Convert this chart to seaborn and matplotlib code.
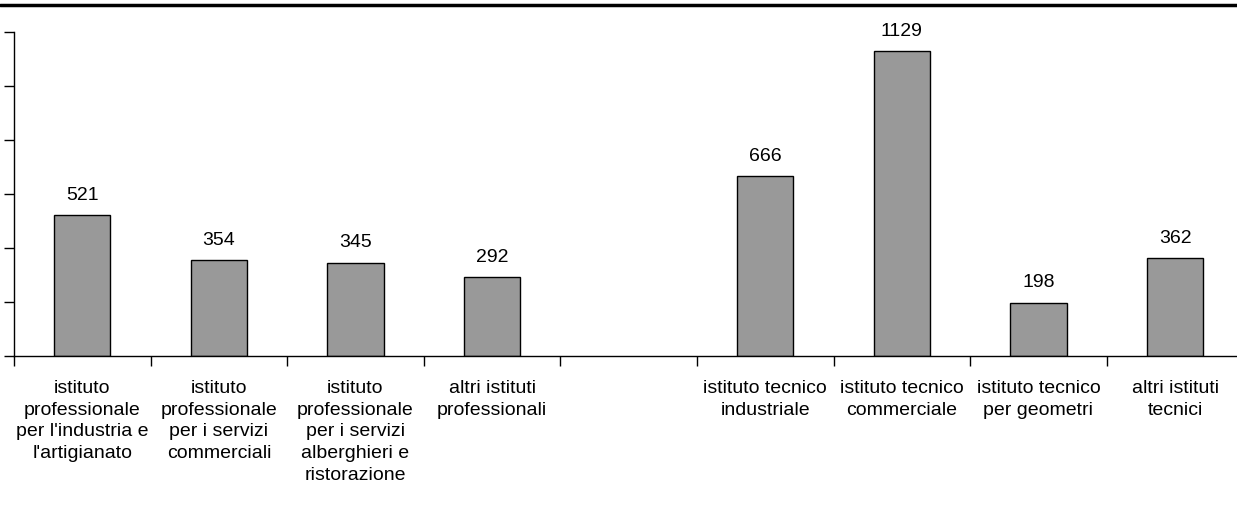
import numpy as np
import pandas as pd
import matplotlib
matplotlib.use("Agg")
import matplotlib.pyplot as plt
import seaborn as sns
from matplotlib.lines import Line2D

# School types (one empty slot separates the two groups)
categories = [
    "istituto\nprofessionale\nper l'industria e\nl'artigianato",
    "istituto\nprofessionale\nper i servizi\ncommerciali",
    "istituto\nprofessionale\nper i servizi\nalberghieri e\nristorazione",
    "altri istituti\nprofessionali",
    " ",
    "istituto tecnico\nindustriale",
    "istituto tecnico\ncommerciale",
    "istituto tecnico\nper geometri",
    "altri istituti\ntecnici",
]
values = [521, 354, 345, 292, np.nan, 666, 1129, 198, 362]
y_ticks = [0, 200, 400, 600, 800, 1000, 1200]

df = pd.DataFrame({"tipo": categories, "n": values})

sns.set_theme(style="white")
plt.rcParams["font.family"] = ["Liberation Sans", "DejaVu Sans"]
plt.rcParams["text.color"] = "black"
plt.rcParams["xtick.color"] = "black"
plt.rcParams["ytick.color"] = "black"
fs = 14

W, H = 1237, 510
fig = plt.figure(figsize=(W / 100, H / 100), dpi=100)
left = 14 / W
right_px = 14 + 9 * 136.6
ax = fig.add_axes([left, (H - 357) / H, (right_px - 14) / W, (357 - 33) / H])

sns.barplot(data=df, x="tipo", y="n", order=categories, color="#999999",
            saturation=1, width=0.41, edgecolor="black", linewidth=1.0, ax=ax)

ax.set_ylim(0, 1200)
ax.set_xlim(-0.5, len(categories) - 0.5)
ax.set_yticks(y_ticks)
ax.set_yticklabels([])
ax.set_xlabel("")
ax.set_ylabel("")

# category labels centred under each bar, tick marks between categories
ax.set_xticks(range(len(categories)))
ax.set_xticklabels(categories, fontsize=fs, linespacing=1.36, color="black")
ax.tick_params(axis="x", which="major", length=0, pad=16.5)
ax.set_xticks(np.arange(-0.5, len(categories) - 0.4, 1), minor=True)
ax.tick_params(axis="x", which="minor", length=7, width=1, color="black",
               direction="out", bottom=True)
ax.tick_params(axis="y", length=7, width=1, color="black", direction="out",
               left=True)

for s in ["top", "right"]:
    ax.spines[s].set_visible(False)
for s in ["left", "bottom"]:
    ax.spines[s].set_color("black")
    ax.spines[s].set_linewidth(1.0)

# value labels above bars
for i, v in enumerate(values):
    if not np.isnan(v):
        ax.annotate(f"{int(v)}", (i, v), xytext=(0, 9), textcoords="offset points",
                    ha="center", va="bottom", fontsize=fs, color="black")

# heavy rule across the top
fig.add_artist(Line2D([0, 1], [1 - 6 / H, 1 - 6 / H], transform=fig.transFigure,
                      color="black", linewidth=2.5))

fig.savefig("out.png", dpi=100, facecolor="white")
